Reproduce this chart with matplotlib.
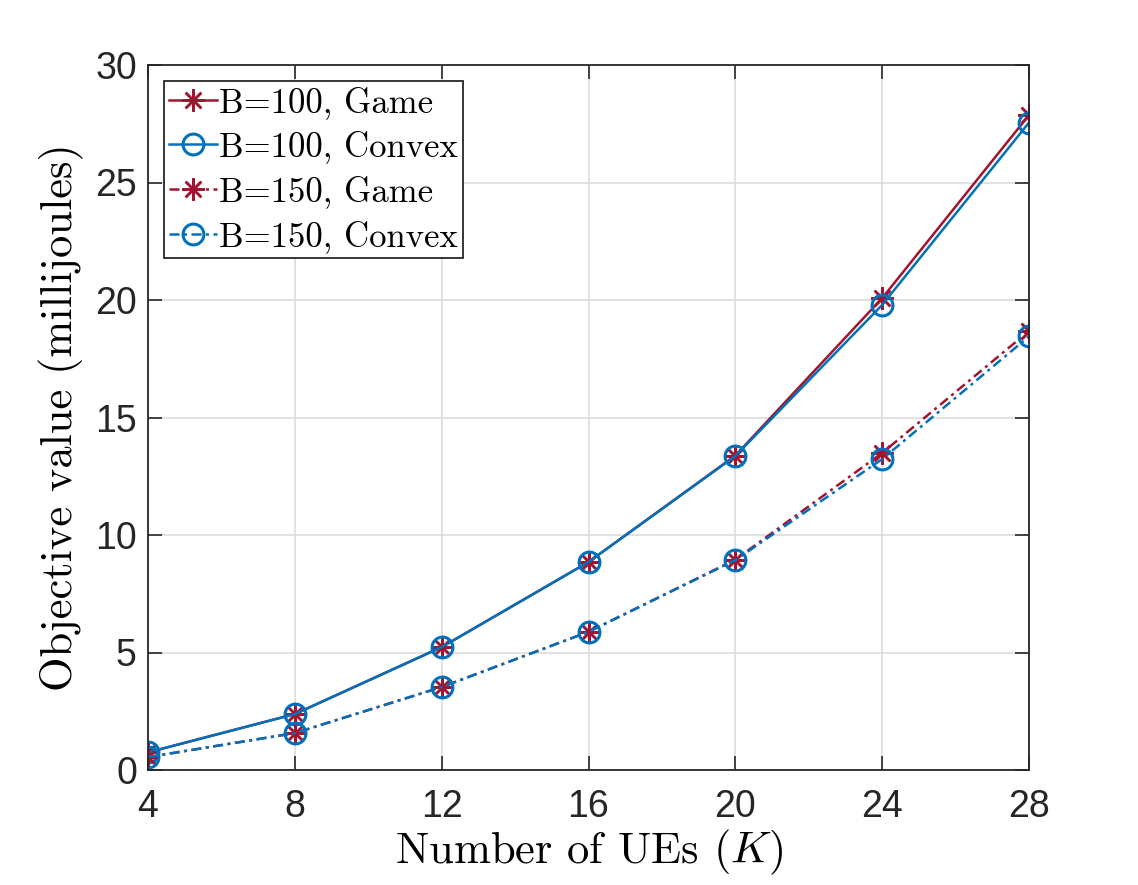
import numpy as np
import matplotlib
matplotlib.use("Agg")
from matplotlib import pyplot as plt

# data
K = [4, 8, 12, 16, 20, 24, 28]
game_100 = [0.75, 2.38, 5.23, 8.85, 13.38, 20.08, 27.87]
convex_100 = [0.75, 2.38, 5.23, 8.85, 13.36, 19.79, 27.55]
game_150 = [0.55, 1.57, 3.53, 5.88, 8.95, 13.49, 18.68]
convex_150 = [0.55, 1.57, 3.53, 5.88, 8.93, 13.23, 18.45]

labels = ['B=100, Game', 'B=100, Convex', 'B=150, Game', 'B=150, Convex']

plt.rcParams['font.family'] = ['Liberation Sans', 'DejaVu Sans']
plt.rcParams['mathtext.fontset'] = 'cm'

red = '#A2142F'
blue = '#0072BD'
dashdot = (0, (4, 1.8, 1.2, 1.8))
star = (8, 2, 0)
cm = dict(family='cmr10')

fig = plt.figure(figsize=(11.38, 8.85), dpi=100)
ax = fig.add_axes([148 / 1138, 1 - 770 / 885, 881 / 1138, 705 / 885])

ax.plot(K, game_100, color=red, lw=1.8, marker=star, ms=16, mew=1.8, label=labels[0])
ax.plot(K, convex_100, color=blue, lw=1.8, marker='o', ms=15, mew=2.2, mfc='none', label=labels[1])
ax.plot(K, game_150, color=red, lw=1.8, ls=dashdot, marker=star, ms=16, mew=1.8, label=labels[2])
ax.plot(K, convex_150, color=blue, lw=1.8, ls=dashdot, marker='o', ms=15, mew=2.2, mfc='none', label=labels[3])

ax.set_xlim(4, 28)
ax.set_ylim(0, 30)
ax.set_xticks(K)
ax.set_yticks(np.arange(0, 31, 5))
ax.tick_params(direction='in', top=True, right=True, labelsize=27, length=10,
               width=1.2, colors='#262626')
ax.tick_params(axis='x', pad=14)
ax.tick_params(axis='y', pad=8)
ax.grid(True, color='#dcdcdc', lw=1.2)
ax.set_axisbelow(True)
for s in ax.spines.values():
    s.set_color('#262626')
    s.set_linewidth(1.3)

ax.set_xlabel('Number of UEs ($K$)', fontsize=32, labelpad=2, **cm)
ax.set_ylabel('Objective value (millijoules)', fontsize=32, labelpad=8, **cm)

leg = ax.legend(loc='upper left', prop=dict(family='cmr10', size=25), handlelength=1.4,
                handletextpad=0.05, borderpad=0.15, labelspacing=0.34, borderaxespad=0.45,
                fancybox=False, framealpha=1)
leg.get_frame().set_edgecolor('#262626')
leg.get_frame().set_linewidth(1.3)

fig.savefig('out.png', dpi=100)
